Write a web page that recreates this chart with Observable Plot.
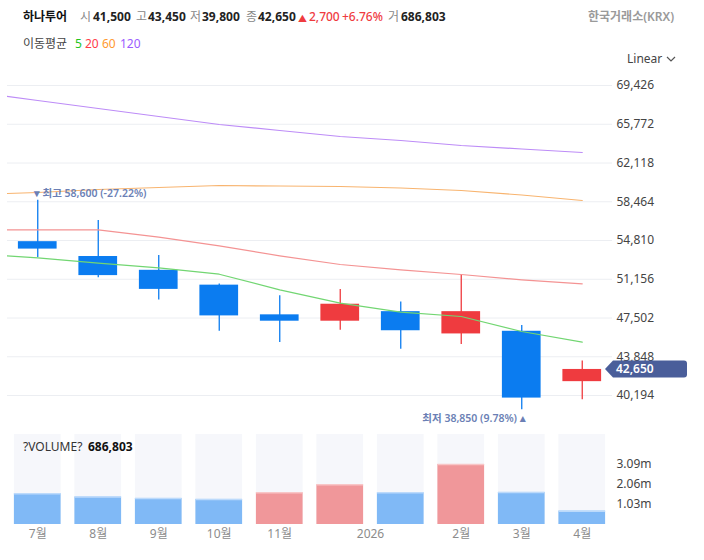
<!DOCTYPE html>
<html><head><meta charset="utf-8">
<script src="https://cdn.jsdelivr.net/npm/d3@7"></script>
<script src="https://cdn.jsdelivr.net/npm/@observablehq/plot@0.6"></script>
<style>
body{margin:0;background:#fff;font-family:"Noto Sans","Noto Sans CJK KR",sans-serif;}
#wrap{position:relative;width:704px;height:560px;overflow:hidden;background:#fff;}
.a{position:absolute;white-space:nowrap;font-size:12px;line-height:16px;}
#wrap svg{position:absolute;left:0;}
</style></head><body><div id="wrap"></div>
<script>
// ---- data ----
const months = ["7월","8월","9월","10월","11월","12월","1월","2월","3월","4월"];
const open   = [54700, 53300, 52000, 50600, 47800, 47200, 48100, 46000, 46250, 41500];
const high   = [58600, 56700, 53400, 50700, 49600, 50200, 49000, 51600, 46800, 43450];
const low    = [53200, 51300, 49200, 46250, 45200, 46350, 44550, 45000, 38850, 39800];
const close  = [54000, 51500, 50200, 47700, 47200, 48800, 46300, 48100, 39950, 42650];
const volume = [1580000, 1410000, 1340000, 1290000, 1630000, 2040000, 1630000, 3088000, 1650000, 686803];
// moving averages, first value is the month before 7월 (June)
const ma5   = [53555, 53178, 52669, 52235, 51631, 50160, 48897, 48048, 47643, 46228, 45219];
const ma20  = [55819, 55819, 55819, 55121, 54310, 53367, 52547, 52047, 51603, 51104, 50727];
const ma60  = [59148, 59336, 59619, 59807, 59996, 59949, 59902, 59760, 59524, 59100, 58582];
const ma120 = [68766, 68012, 67257, 66503, 65748, 65183, 64617, 64240, 63768, 63438, 63108];
const priceTicks = [40194, 43848, 47502, 51156, 54810, 58464, 62118, 65772, 69426];
const xTickPos    = [0, 1, 2, 3, 4, 5.5, 7, 8, 9];
const xTickLabels = ["7월","8월","9월","10월","11월","2026","2월","3월","4월"];
const stockName = "하나투어";
const exchange = "한국거래소(KRX)";

// ---- derived ----
const fmt = d3.format(",");
const n = months.length;
const idx = d3.range(n);
const candles = idx.map(i => ({i, o: open[i], h: high[i], l: low[i], c: close[i]}));
const up = candles.filter(d => d.c >= d.o);
const down = candles.filter(d => d.c < d.o);
const UP = "#ef3b3f", DOWN = "#0b7cf0";
const maSeries = [
  {vals: ma120, color: "#bd8cf7"},
  {vals: ma60, color: "#f8b46f"},
  {vals: ma20, color: "#f49393"},
  {vals: ma5, color: "#72d672"}
].map(s => ({...s, data: s.vals.map((v, j) => ({i: j - 1, v}))}));
const hiI = d3.maxIndex(high), loI = d3.minIndex(low);
const last = close[n - 1], prev = close[n - 2];
const pctHi = ((last - high[hiI]) / high[hiI] * 100).toFixed(2);
const pctLo = ((last - low[loI]) / low[loI] * 100).toFixed(2);
const bw = 0.32, vw = 0.386;
const font = '"Noto Sans","Noto Sans CJK KR",sans-serif';

const wrap = document.getElementById("wrap");
function label(x, y, text, color, weight, size) {
  const s = document.createElement("div");
  s.className = "a";
  s.style.left = x + "px"; s.style.top = y + "px";
  s.style.color = color; s.style.fontWeight = weight || 400;
  if (size) s.style.fontSize = size + "px";
  s.textContent = text;
  wrap.appendChild(s);
  return s;
}

// ---- price chart ----
const price = Plot.plot({
  width: 704, height: 365,
  marginLeft: 7, marginRight: 92, marginTop: 25, marginBottom: 30,
  style: {fontFamily: font, fontSize: "12px", color: "#444", background: "transparent", overflow: "visible"},
  x: {domain: [-0.5, n - 0.5], axis: null},
  y: {domain: [priceTicks[0], priceTicks[priceTicks.length - 1]], axis: null},
  marks: [
    Plot.gridY(priceTicks, {stroke: "#eceef2", strokeOpacity: 1}),
    Plot.axisY(priceTicks, {anchor: "right", tickSize: 0, tickPadding: 4, tickFormat: fmt, fill: "#444", label: null}),
    Plot.ruleX(up, {x: "i", y1: "l", y2: "h", stroke: UP, strokeWidth: 1.3}),
    Plot.ruleX(down, {x: "i", y1: "l", y2: "h", stroke: DOWN, strokeWidth: 1.3}),
    Plot.rect(up, {x1: d => d.i - bw, x2: d => d.i + bw, y1: "o", y2: "c", fill: UP}),
    Plot.rect(down, {x1: d => d.i - bw, x2: d => d.i + bw, y1: "o", y2: "c", fill: DOWN}),
    ...maSeries.map(s => Plot.line(s.data, {x: "i", y: "v", stroke: s.color, strokeWidth: 1.2, clip: true})),
    Plot.text([hiI], {x: i => i, y: i => high[i], text: () => `▾ 최고 ${fmt(high[hiI])} (${pctHi}%)`,
      textAnchor: "start", dx: -4, dy: -7, fill: "#6b7fb5", fontSize: 10.5, fontWeight: 600}),
    Plot.text([loI], {x: i => i, y: i => low[i], text: () => `최저 ${fmt(low[loI])} (${pctLo}%) ▴`,
      textAnchor: "end", dx: 4, dy: 9, fill: "#6b7fb5", fontSize: 10.5, fontWeight: 600}),
    (index, scales, values, dims) => {
      const y = scales.y(last);
      const xr = dims.width - dims.marginRight;
      const g = d3.create("svg:g");
      g.append("path")
        .attr("d", `M${xr-7},${y} L${xr+1},${y-8.5} H${xr+72} Q${xr+75},${y-8.5} ${xr+75},${y-5.5} V${y+5.5} Q${xr+75},${y+8.5} ${xr+72},${y+8.5} H${xr+1} Z`)
        .attr("fill", "#4a5e9a");
      g.append("text").attr("x", xr + 4).attr("y", y).attr("dy", "0.35em")
        .attr("text-anchor", "start")
        .attr("fill", "#fff").attr("font-weight", 600).attr("font-size", 12).text(fmt(last));
      return g.node();
    }
  ]
});
price.style.top = "60px";
wrap.appendChild(price);

// ---- volume chart ----
const vmax = d3.max(volume);
const vol = idx.map(i => ({i, v: volume[i], up: i > 0 && volume[i] > volume[i - 1]}));
const vUp = vol.filter(d => d.up), vDown = vol.filter(d => !d.up);
const volPlot = Plot.plot({
  width: 704, height: 135,
  marginLeft: 7, marginRight: 92, marginTop: 9, marginBottom: 36,
  style: {fontFamily: font, fontSize: "12px", color: "#444", background: "transparent", overflow: "visible"},
  x: {domain: [-0.5, n - 0.5], axis: null},
  y: {domain: [0, vmax * 1.5], axis: null},
  marks: [
    Plot.rect(vol, {x1: d => d.i - vw, x2: d => d.i + vw, y1: 0, y2: vmax * 1.5, fill: "#f6f7fb"}),
    Plot.rect(vUp, {x1: d => d.i - vw, x2: d => d.i + vw, y1: 0, y2: "v", fill: "#f0979a"}),
    Plot.rect(vDown, {x1: d => d.i - vw, x2: d => d.i + vw, y1: 0, y2: "v", fill: "#80b9f6"}),
    Plot.ruleY(vUp, {y: "v", x1: d => d.i - vw, x2: d => d.i + vw, stroke: "#f8c6c7", strokeWidth: 1.5}),
    Plot.ruleY(vDown, {y: "v", x1: d => d.i - vw, x2: d => d.i + vw, stroke: "#bcdafb", strokeWidth: 1.5}),
    Plot.axisY([vmax / 3, vmax * 2 / 3, vmax], {anchor: "right", tickSize: 0, tickPadding: 4,
      tickFormat: d => (d / 1e6).toFixed(2) + "m", fill: "#444", label: null}),
    Plot.axisX(xTickPos, {anchor: "bottom", tickSize: 0, tickPadding: 5,
      tickFormat: d => xTickLabels[xTickPos.indexOf(d)], fill: "#8c8c8c", label: null})
  ]
});
volPlot.style.top = "425px";
wrap.appendChild(volPlot);

// ---- header (HTML text) ----
const chg = last - prev, chgPct = (chg / prev * 100).toFixed(2);
label(23, 9, stockName, "#111", 700);
label(80, 9, "시", "#888"); label(93, 9, fmt(open[n-1]), "#222", 700);
label(136, 9, "고", "#888"); label(148, 9, fmt(high[n-1]), "#222", 700);
label(190, 9, "저", "#888"); label(202, 9, fmt(low[n-1]), "#222", 700);
label(246, 9, "종", "#888"); label(258, 9, fmt(last), "#222", 700);
label(298, 9, chg >= 0 ? "▲" : "▼", "#ef3b3f", 400, 9).style.top = "11px";
label(309, 9, fmt(Math.abs(chg)), "#ef3b3f", 500);
label(342, 9, (chg >= 0 ? "+" : "") + chgPct + "%", "#ef3b3f", 500);
label(388, 9, "거", "#888"); label(401, 9, fmt(volume[n-1]), "#222", 700);
label(588, 9, exchange, "#9a9a9a", 600);
label(23, 36, "이동평균", "#444");
label(75, 36, "5", "#22c522"); label(85, 36, "20", "#ff3b4a");
label(102, 36, "60", "#ff9a30"); label(120, 36, "120", "#9b5cff");
label(627, 51, "Linear", "#444");
const chev = label(666, 51, "", "#444");
chev.innerHTML = '<svg width="10" height="16" style="position:static"><polyline points="1,6 5,10 9,6" fill="none" stroke="#555" stroke-width="1.2"/></svg>';
label(23, 439, "?VOLUME?", "#333");
label(88, 439, fmt(volume[n-1]), "#111", 700);
</script>
</body></html>
